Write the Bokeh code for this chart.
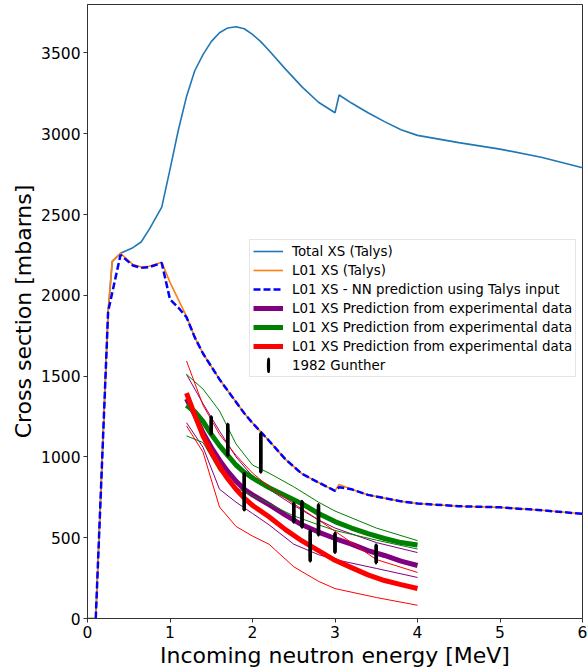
import numpy as np
from bokeh.plotting import figure
from bokeh.models import Range1d, FixedTicker, Legend, LegendItem
from bokeh.embed import file_html
from bokeh.resources import INLINE

# ---------------- data ----------------
energy_talys = [0.0, 0.1, 0.25, 0.3, 0.4, 0.55, 0.65, 0.75, 0.9, 1.0, 1.1, 1.2, 1.3, 1.4, 1.5,
                1.6, 1.7, 1.8, 1.9, 2.0, 2.1, 2.2, 2.4, 2.6, 2.8, 3.0, 3.05, 3.2, 3.4, 3.6,
                3.8, 4.0, 4.5, 5.0, 5.5, 6.0]
total_xs = [0, 0, 1900, 2210, 2260, 2295, 2330, 2410, 2546, 2780, 3020, 3230, 3390, 3490, 3570,
            3625, 3655, 3662, 3650, 3615, 3570, 3515, 3400, 3290, 3195, 3130, 3240, 3190, 3130, 3075,
            3025, 2990, 2945, 2905, 2855, 2790]
l01_xs = [0, 0, 1900, 2210, 2260, 2190, 2175, 2180, 2205, 2080, 1975, 1870, 1740, 1640, 1560,
          1480, 1410, 1340, 1270, 1210, 1155, 1100, 985, 895, 842, 790, 830, 800, 765, 745,
          725, 712, 695, 688, 670, 648]

energy_nn = [0.1, 0.25, 0.4, 0.55, 0.65, 0.75, 0.9, 1.0, 1.1, 1.2, 1.3, 1.4, 1.5,
             1.6, 1.7, 1.8, 1.9, 2.0, 2.1, 2.2, 2.4, 2.6, 2.8, 3.0, 3.05, 3.2, 3.4, 3.6,
             3.8, 4.0, 4.5, 5.0, 5.5, 6.0]
nn_xs = [0, 1900, 2250, 2185, 2170, 2175, 2200, 1975, 1925, 1865, 1740, 1640, 1560,
         1480, 1410, 1340, 1270, 1210, 1155, 1100, 985, 895, 842, 790, 812, 800, 765, 745,
         725, 712, 695, 688, 670, 648]

energy_pred = [1.2, 1.3, 1.4, 1.5, 1.6, 1.7, 1.8, 1.9, 2.0, 2.2, 2.4, 2.6, 2.8, 3.0, 3.2, 3.4, 3.6, 3.8, 4.0]
purple_pred = [1360, 1260, 1150, 1060, 980, 910, 850, 800, 765, 705, 640, 580, 535, 495, 460, 420, 390, 355, 328]
green_pred = [1320, 1280, 1220, 1140, 1070, 1010, 950, 905, 870, 810, 760, 710, 650, 600, 560, 525, 495, 470, 455]
red_pred = [1395, 1260, 1130, 1030, 940, 865, 800, 745, 700, 630, 550, 480, 420, 360, 315, 270, 235, 210, 186]

energy_band = [1.2, 1.4, 1.6, 1.8, 2.0, 2.2, 2.5, 2.8, 3.0, 3.5, 4.0]
purple_hi = [1511, 1330, 1160, 1000, 880, 800, 700, 610, 560, 470, 408]
purple_lo = [1212, 1060, 800, 720, 650, 580, 460, 395, 365, 310, 254]
green_hi = [1511, 1420, 1285, 1080, 950, 900, 815, 720, 665, 560, 482]
green_lo = [1130, 1089, 913, 810, 760, 710, 635, 580, 545, 485, 430]
red_hi = [1594, 1320, 1140, 1010, 900, 815, 710, 610, 540, 365, 285]
red_lo = [1192, 1030, 690, 570, 510, 460, 320, 230, 185, 130, 82]

gunther_e = [1.5, 1.7, 1.9, 2.1, 2.5, 2.6, 2.7, 2.8, 3.0, 3.5]
gunther_xs = [1195, 1105, 785, 1025, 655, 645, 450, 610, 468, 400]
gunther_err = [55, 100, 115, 120, 60, 80, 95, 95, 60, 57]

x_ticks = [0, 1, 2, 3, 4, 5, 6]
y_ticks = [0, 500, 1000, 1500, 2000, 2500, 3000, 3500]

legend_labels = ["Total XS (Talys)", "L01 XS (Talys)", "L01 XS - NN prediction using Talys input",
                 "L01 XS Prediction from experimental data", "L01 XS Prediction from experimental data",
                 "L01 XS Prediction from experimental data", "1982 Gunther"]

FONT = "DejaVu Sans"

# ---------------- figure ----------------
p = figure(width=587, height=670, output_backend="svg", toolbar_location=None,
           x_range=Range1d(0, 6), y_range=Range1d(0, 3800),
           min_border_left=87, min_border_right=5, min_border_top=4, min_border_bottom=52,
           x_axis_label="Incoming neutron energy [MeV]", y_axis_label="Cross section [mbarns]")
p.xgrid.visible = False
p.ygrid.visible = False
p.outline_line_color = "#333333"
p.outline_line_width = 1
p.background_fill_color = "white"
p.border_fill_color = "white"

p.xaxis.ticker = FixedTicker(ticks=x_ticks)
p.yaxis.ticker = FixedTicker(ticks=y_ticks)
for ax in (p.xaxis[0], p.yaxis[0]):
    ax.axis_line_color = "#333333"
    ax.major_tick_line_color = "#333333"
    ax.major_tick_out = 4
    ax.major_tick_in = 0
    ax.minor_tick_line_color = None
    ax.major_label_text_font = FONT
    ax.major_label_text_font_size = "15.5px"
    ax.major_label_text_color = "black"
    ax.major_label_standoff = 3
    ax.axis_label_text_font = FONT
    ax.axis_label_text_font_size = "22px"
    ax.axis_label_text_font_style = "normal"
    ax.axis_label_text_color = "black"
    ax.axis_label_standoff = 2

# ---------------- glyphs ----------------
r_total = p.line(energy_talys, total_xs, line_color="#1f77b4", line_width=1.6)
r_l01 = p.line(energy_talys, l01_xs, line_color="#ff7f0e", line_width=1.6)
r_nn = p.line(energy_nn, nn_xs, line_color="blue", line_width=2.5, line_dash="7 3")

pred_renderers = []
for col, pred, hi, lo in (("purple", purple_pred, purple_hi, purple_lo),
                          ("green", green_pred, green_hi, green_lo),
                          ("red", red_pred, red_hi, red_lo)):
    pred_renderers.append(p.line(energy_pred, pred, line_color=col, line_width=5))
    p.line(energy_band, hi, line_color=col, line_width=1)
    p.line(energy_band, lo, line_color=col, line_width=1)

ge = np.array(gunther_e)
gx = np.array(gunther_xs)
gerr = np.array(gunther_err)
p.segment(x0=ge, y0=gx - gerr, x1=ge, y1=gx + gerr, line_color="black", line_width=3.5)
r_gun = p.ellipse(x=ge, y=gx, width=0.004, height=2 * gerr, fill_color="black",
                  line_color="black", line_width=3)

renderers = [r_total, r_l01, r_nn] + pred_renderers + [r_gun]

# ---------------- legend ----------------
leg = Legend(items=[LegendItem(label=lab, renderers=[r]) for lab, r in zip(legend_labels, renderers)])
leg.location = (162, 241)
leg.label_text_font = FONT
leg.label_text_font_size = "13.4px"
leg.label_text_color = "black"
leg.glyph_width = 30
leg.glyph_height = 16
leg.label_height = 16
leg.label_standoff = 9
leg.spacing = 3
leg.padding = 3
leg.margin = 0
leg.border_line_color = "#cccccc"
leg.border_line_width = 1
leg.background_fill_alpha = 0.85
p.add_layout(leg, "center")

open("out.html", "w").write(file_html(p, INLINE))
